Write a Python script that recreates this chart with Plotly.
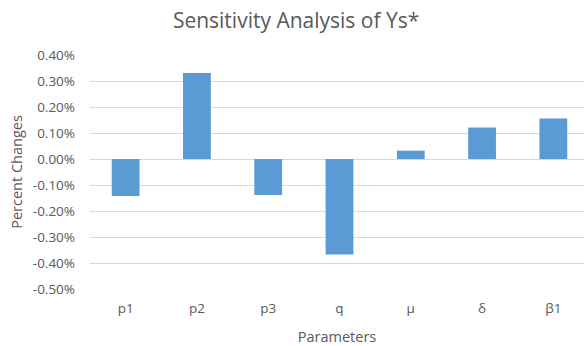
import plotly.graph_objects as go

# Sensitivity of Ys* to each model parameter (percent change)
parameters = ["p1", "p2", "p3", "q", "μ", "δ", "β1"]
percent_change = [-0.00142, 0.00331, -0.00138, -0.00367, 0.00032, 0.00121, 0.00156]
y_ticks = [0.004, 0.003, 0.002, 0.001, 0.0, -0.001, -0.002, -0.003, -0.004, -0.005]
y_tick_text = [f"{v * 100:.2f}%" for v in y_ticks]

text_color = "#595959"
font_family = "Open Sans, Liberation Sans, sans-serif"

fig = go.Figure(
    go.Bar(
        x=list(range(len(parameters))),
        y=percent_change,
        marker=dict(color="#5B9BD5", line=dict(width=0)),
        width=0.39,
    )
)

fig.update_layout(
    width=584,
    height=346,
    margin=dict(l=90, r=0, t=55, b=57),
    paper_bgcolor="white",
    plot_bgcolor="white",
    showlegend=False,
    title=dict(
        text="Sensitivity Analysis of Ys*",
        x=0.507,
        xanchor="center",
        y=1 - 21 / 346,
        yanchor="middle",
        font=dict(family=font_family, size=21, color=text_color),
    ),
    font=dict(family=font_family, color=text_color),
)

fig.update_xaxes(
    tickmode="array",
    tickvals=list(range(len(parameters))),
    ticktext=parameters,
    range=[-0.5, 6.43],
    showgrid=False,
    zeroline=False,
    showline=False,
    ticks="",
    ticklabelstandoff=9,
    tickfont=dict(size=13.5, color=text_color),
    title=dict(text="Parameters", font=dict(size=14.5, color=text_color), standoff=16),
)

fig.update_yaxes(
    range=[-0.005, 0.004],
    tickmode="array",
    tickvals=y_ticks,
    ticktext=y_tick_text,
    showgrid=True,
    gridcolor="#D9D9D9",
    gridwidth=1,
    zeroline=True,
    zerolinecolor="#D9D9D9",
    zerolinewidth=1,
    showline=False,
    ticks="",
    ticklabelstandoff=14,
    tickfont=dict(size=13.5, color=text_color),
    title=dict(text="Percent Changes", font=dict(size=14.5, color=text_color), standoff=6),
)

fig.write_html("out.html")
